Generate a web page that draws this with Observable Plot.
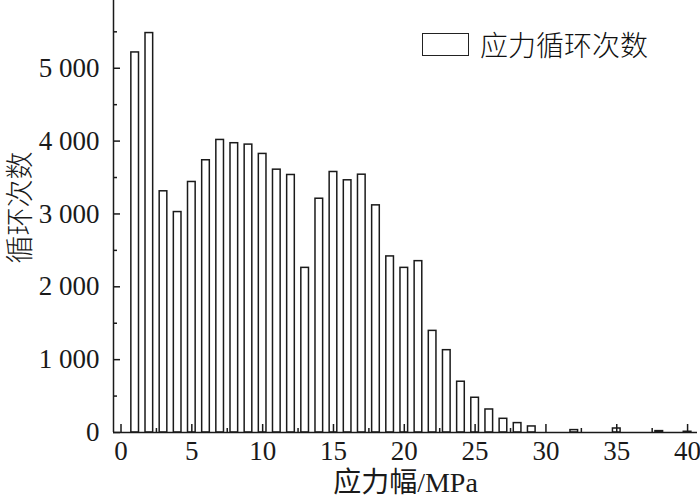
<!DOCTYPE html>
<html>
<head>
<meta charset="utf-8">
<script src="https://cdn.jsdelivr.net/npm/d3@7"></script>
<script src="https://cdn.jsdelivr.net/npm/@observablehq/plot@0.6"></script>
<style>
  html, body { margin: 0; padding: 0; background: #fff; }
  #wrap { position: relative; width: 700px; height: 502px; }
  #legend { position: absolute; left: 422px; top: 24px; display: flex; align-items: center;
    font-family: "Noto Sans CJK SC", sans-serif; font-size: 28px; font-weight: 300; color: #111; }
  #legend .box { width: 45px; height: 21px; border: 1.5px solid #222; background: #fff; margin-right: 11px; }
</style>
</head>
<body>
<div id="wrap"><div id="legend"><span class="box"></span><span>应力循环次数</span></div></div>
<script>
// stress amplitude bins (MPa) and cycle counts
const amplitudes = [1,2,3,4,5,6,7,8,9,10,11,12,13,14,15,16,17,18,19,20,21,22,23,24,25,26,27,28,29,32,35,38,40];
const cycles = [5217,5483,3311,3026,3439,3737,4016,3971,3952,3824,3608,3535,2260,3209,3576,3462,3539,3118,2417,2260,2352,1395,1130,697,477,316,188,129,83,33,55,19,10];
const xMajorTicks = [0,5,10,15,20,25,30,35,40];
const xMinorTicks = [2.5,7.5,12.5,17.5,22.5,27.5,32.5,37.5];
const yMajorTicks = [0,1000,2000,3000,4000,5000];
const yMinorTicks = [500,1500,2500,3500,4500,5500];
const xTitle = "应力幅/MPa";
const yTitle = "循环次数";

const data = amplitudes.map((a, i) => ({a, v: cycles[i]}));

const W = 700, H = 502;
const mL = 113, mR = 3, mT = 0, mB = 70;
const xDom = [-0.53, 40.7], yDom = [0, 5930];
const pxX = (W - mL - mR) / (xDom[1] - xDom[0]);
const pxY = (H - mT - mB) / (yDom[1] - yDom[0]);
const ink = "#1a1a1a";
const fmt = d => d === 0 ? "0" : d3.format(",")(d).replace(/,/g, " ");

const chart = Plot.plot({
  width: W, height: H,
  marginLeft: mL, marginRight: mR, marginTop: mT, marginBottom: mB,
  x: {domain: xDom},
  y: {domain: yDom},
  style: {fontFamily: "'Liberation Serif', 'Noto Sans CJK SC', serif", fontSize: "27px", color: ink, background: "white"},
  marks: [
    Plot.rectY(data, {x1: d => d.a - 0.27, x2: d => d.a + 0.27, y1: 0, y2: "v", fill: "white", stroke: ink, strokeWidth: 1.5}),
    // y-axis ticks (inward)
    Plot.ruleY(yMajorTicks, {x1: xDom[0], x2: xDom[0] + 7 / pxX, stroke: ink, strokeWidth: 1.5}),
    Plot.ruleY(yMinorTicks, {x1: xDom[0], x2: xDom[0] + 4 / pxX, stroke: ink, strokeWidth: 1.5}),
    // x-axis ticks (inward)
    Plot.ruleX(xMajorTicks, {y1: 0, y2: 8 / pxY, stroke: ink, strokeWidth: 1.5}),
    Plot.ruleX(xMinorTicks, {y1: 0, y2: 4 / pxY, stroke: ink, strokeWidth: 1.5}),
    // axis lines
    Plot.ruleX([xDom[0]], {stroke: ink, strokeWidth: 1.5}),
    Plot.ruleY([0], {stroke: ink, strokeWidth: 1.5}),
    Plot.axisY(yMajorTicks, {tickSize: 0, tickPadding: 14, tickFormat: fmt, label: null, fontSize: 27}),
    Plot.axisX(xMajorTicks, {tickSize: 0, tickPadding: 8, label: null, fontSize: 27}),
    Plot.text([xTitle], {frameAnchor: "bottom", dy: 59, fontSize: 28, fill: ink}),
    Plot.text([yTitle], {frameAnchor: "left", textAnchor: "middle", rotate: -90, dx: -92, dy: -9, fontSize: 28, fill: ink, fontFamily: "'Noto Sans CJK SC', sans-serif", fontWeight: 300})
  ]
});
document.getElementById("wrap").prepend(chart);
</script>
</body>
</html>
